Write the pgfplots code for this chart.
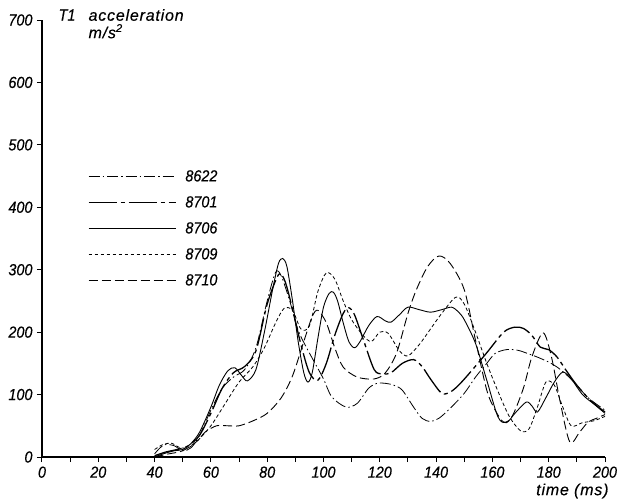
\documentclass[border=0pt]{standalone}
\usepackage{pgfplots}
\pgfplotsset{compat=1.18}
\usepackage{fontspec}
\setmainfont{Liberation Sans}[FakeStretch=0.9, FakeBold=0.4]
\newfontfamily\wordfont{Liberation Sans}[LetterSpace=5, FakeBold=0.4]
\begin{document}
\begin{tikzpicture}[font=\itshape\fontsize{16}{18}\selectfont]
\begin{axis}[
  at={(0pt,0pt)}, anchor=origin,
  scale only axis, width=563pt, height=437pt,
  xmin=0, xmax=200, ymin=0, ymax=700,
  enlargelimits=false, clip=false,
  axis x line*=bottom, axis y line*=left,
  axis line style={-, line width=1.3pt},
  xtick={0,20,...,200}, minor xtick={10,30,...,190},
  ytick={0,100,...,700},
  tick align=outside, major tick length=5pt, minor tick length=5pt,
  tick style={line width=1pt, black},
  /pgf/number format/assume math mode=true,
  tick label style={font=\itshape\fontsize{16}{18}\selectfont},
  xticklabel style={yshift=-1pt},
  yticklabel style={xshift=-1pt},
  legend style={at={(axis cs:16.3,461)}, anchor=north west, draw=none, fill=none, inner sep=0pt,
    row sep=14pt, column sep=9pt, nodes={inner sep=0pt, text height=12pt, text depth=0pt, font=\itshape\fontsize{16}{18}\selectfont}},
  legend cell align=left,
  legend image code/.code={\draw[#1] (0pt,-1pt) -- (87pt,-1pt);},
]
% 8622 dash dot
\addplot[black, line width=0.8pt, smooth, dash pattern=on 11pt off 3pt on 1.5pt off 3pt] coordinates {
(40,5)(42,15)(44,20)(47,18)(50,10)(53,15)(56,35)(60,75)(64,110)(68,128)(72,140)(76,175)(80,250)(83,296)(85,290)(88,250)(91,203)(94,175)(97,150)(100,125)(103,96)(108,80)(112,86)(116,110)(119,118)(122,118)(125,115)(128,107)(132,80)(135,62)(138,57)(141,62)(145,78)(150,102)(154,128)(158,150)(161,166)(165,172)(169,171)(173,165)(176,160)(180,152)(183,144)(186,133)(189,120)(194,95)(200,75)};
\addlegendentry{8622}
% 8701 thick long dash dot
\addplot[black, line width=1.3pt, smooth, dash pattern=on 28pt off 4pt on 4pt off 4pt] coordinates {
(40,2)(44,8)(48,12)(52,18)(56,35)(60,70)(64,110)(68,135)(72,145)(76,170)(80,245)(84,292)(86,285)(88,255)(92,180)(95,135)(98,123)(101,150)(104,195)(107,230)(109,239)(111,228)(114,190)(118,140)(121,133)(124,135)(128,150)(132,156)(135,145)(138,125)(142,102)(145,104)(148,115)(152,135)(158,167)(164,200)(168,208)(171,206)(174,195)(177,176)(180,172)(183,160)(186,140)(190,115)(195,90)(200,72)};
\addlegendentry{8701}
% 8706 solid
\addplot[black, line width=0.9pt, smooth] coordinates {
(40,0)(43,5)(47,10)(50,12)(53,22)(56,40)(60,80)(63,115)(66,138)(68.5,143)(71,130)(73,122)(76,140)(79,200)(82,270)(84,310)(85.5,318)(87,305)(89,250)(91,185)(93,135)(94.5,120)(96,135)(98,190)(100,240)(102,262)(103.5,264)(105,250)(107,215)(109,185)(111,175)(113,185)(116,210)(119,225)(122,218)(124,216)(127,228)(130,240)(134,236)(138,232)(142,236)(145.5,240)(148,232)(150,220)(154,182)(158,123)(162,64)(165,55)(168,70)(172,88)(174,82)(176,72)(179,95)(182,120)(185,136)(188,125)(192,100)(196,85)(200,70)};
\addlegendentry{8706}
% 8709 dotted
\addplot[black, line width=0.8pt, smooth, dash pattern=on 3.5pt off 2.5pt] coordinates {
(40,12)(43,20)(46,22)(49,15)(52,15)(55,25)(60,50)(65,85)(70,120)(75,145)(79,175)(83,215)(86,238)(89,235)(92,205)(95,210)(98,265)(101,295)(104,285)(107,250)(110,220)(114,195)(117,185)(120,200)(123,198)(127,170)(130,162)(134,180)(138,205)(142,230)(147,256)(150,245)(154,200)(158,150)(162,105)(166,65)(170,42)(173,45)(176,80)(179,120)(182,115)(185,80)(188,50)(192,55)(196,58)(200,65)};
\addlegendentry{8709}
% 8710 long dashed
\addplot[black, line width=0.9pt, smooth, dash pattern=on 9pt off 4pt] coordinates {
(40,0)(45,5)(50,10)(55,25)(58,40)(62,50)(66,50)(70,50)(75,58)(80,70)(85,95)(89,130)(93,185)(96,225)(98,235)(101,215)(104,175)(107,144)(112,128)(118,125)(122,135)(126,167)(130,230)(133,268)(137,305)(141,322)(145,310)(150,268)(154,187)(158,107)(161,75)(164,56)(167,65)(171,110)(174,160)(178,199)(181,160)(184,90)(187.5,24)(191,40)(194,56)(197,62)(200,68)};
\addlegendentry{8710}
\node[anchor=center] at (axis cs:8.9,708) {T1};
\node[anchor=west] at (axis cs:15.3,708) {\wordfont\itshape acceleration};
\node[anchor=west] at (axis cs:15.3,682) {\wordfont\itshape m/s\textsuperscript{2}};
\node[anchor=east] at (axis cs:202.5,-54.5) {\wordfont\itshape time (ms)};
\end{axis}
\pgfresetboundingbox
\path[use as bounding box] (-42pt,-47pt) rectangle (588pt,457pt);
\end{tikzpicture}
\end{document}
